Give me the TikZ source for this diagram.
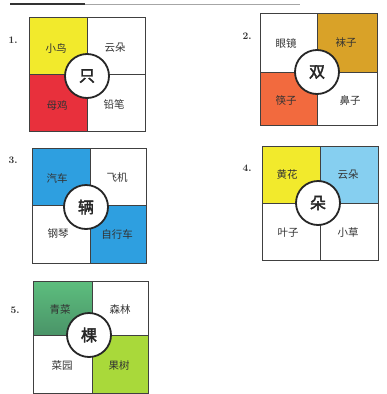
\documentclass[tikz,border=0pt]{standalone}
\usepackage{fontspec}
\newfontfamily\cjk[AutoFakeBold=2.5]{Noto Sans CJK SC}
\begin{document}
\begin{tikzpicture}[x=1pt,y=-1pt,
  frame/.style={draw=black!75,line width=1},
  hub/.style={circle,draw=black!85,line width=1.8,fill=white,minimum size=44,inner sep=0,font=\cjk\bfseries\fontsize{16}{17}\selectfont,text=black!85},
  qlabel/.style={inner sep=0,font=\cjk\fontsize{10.5}{12}\selectfont,text=black!80},
  num/.style={inner sep=0,font=\bfseries\fontsize{10}{12}\selectfont,text=black!80}]
\definecolor{cyel}{HTML}{F2EA2C}
\definecolor{cred}{HTML}{E8303C}
\definecolor{cgold}{HTML}{D9A228}
\definecolor{corange}{HTML}{F26A3E}
\definecolor{cblue}{HTML}{2E9FE0}
\definecolor{clblue}{HTML}{86CFF0}
\definecolor{cgreen}{HTML}{5DBE7E}
\definecolor{cdgreen}{HTML}{4A9468}
\definecolor{cygreen}{HTML}{A9D93A}
\useasboundingbox (0,0) rectangle (387,394);
\fill[white] (0,0) rectangle (387,394);
% top rule
\draw[black!80,line width=1.6] (10,4) -- (85,4);
\draw[black!35,line width=0.6] (85,4) -- (300,4);

% ---- box 1
\fill[cyel] (29,17) rectangle (87,74);
\fill[cred] (29,74) rectangle (87,131);
\draw[frame] (29,17) rectangle (145,131);
\draw[frame] (87,17) -- (87,131) (29,74) -- (145,74);
\node[hub] (h1) at (87,76) {只};
\node[num] (n1) at (13,40) {1.};
\node[qlabel] (a1) at (56,48) {小鸟};
\node[qlabel] (b1) at (115,48) {云朵};
\node[qlabel] (c1) at (57,105) {母鸡};
\node[qlabel] (d1) at (114,104) {铅笔};

% ---- box 2
\fill[cgold] (317,13) rectangle (377,72);
\fill[corange] (260,72) rectangle (317,125);
\draw[frame] (260,13) rectangle (377,125);
\draw[frame] (317,13) -- (317,125) (260,72) -- (377,72);
\node[hub] (h2) at (317,72) {双};
\node[num] (n2) at (247,36) {2.};
\node[qlabel] (a2) at (286,43) {眼镜};
\node[qlabel] (b2) at (346,43) {袜子};
\node[qlabel] (c2) at (286,100) {筷子};
\node[qlabel] (d2) at (350,100) {鼻子};

% ---- box 3
\fill[cblue] (32,148) rectangle (90,205);
\fill[cblue] (90,205) rectangle (146,263);
\draw[frame] (32,148) rectangle (146,263);
\draw[frame] (90,148) -- (90,263) (32,205) -- (146,205);
\node[hub] (h3) at (86,207) {辆};
\node[num] (n3) at (13,160) {3.};
\node[qlabel] (a3) at (57,178) {汽车};
\node[qlabel] (b3) at (117,178) {飞机};
\node[qlabel] (c3) at (58,234) {钢琴};
\node[qlabel] (d3) at (117,234) {自行车};

% ---- box 4
\fill[cyel] (262,146) rectangle (320,203);
\fill[clblue] (320,146) rectangle (378,203);
\draw[frame] (262,146) rectangle (378,260);
\draw[frame] (320,146) -- (320,260) (262,203) -- (378,203);
\node[hub] (h4) at (318,203) {朵};
\node[num] (n4) at (247,168) {4.};
\node[qlabel] (a4) at (287,175) {黄花};
\node[qlabel] (b4) at (348,175) {云朵};
\node[qlabel] (c4) at (288,233) {叶子};
\node[qlabel] (d4) at (348,233) {小草};

% ---- box 5
\shade[top color=cgreen,bottom color=cdgreen] (33,281) rectangle (92,335);
\fill[cygreen] (92,335) rectangle (148,393);
\draw[frame] (33,281) rectangle (148,393);
\draw[frame] (92,281) -- (92,393) (33,335) -- (148,335);
\node[hub] (h5) at (89,335) {棵};
\node[num] (n5) at (15,310) {5.};
\node[qlabel] (a5) at (60,310) {青菜};
\node[qlabel] (b5) at (120,310) {森林};
\node[qlabel] (c5) at (62,366) {菜园};
\node[qlabel] (d5) at (119,366) {果树};
\end{tikzpicture}
\end{document}
